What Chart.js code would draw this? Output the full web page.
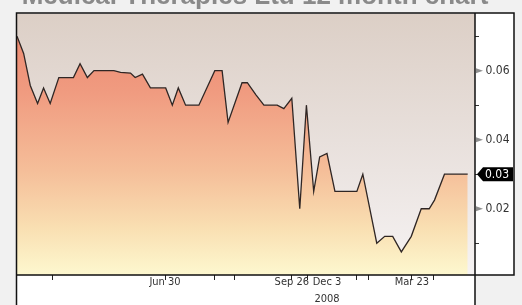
<!DOCTYPE html>
<html>
<head>
<meta charset="utf-8">
<script src="https://cdn.jsdelivr.net/npm/chart.js@4.4.1/dist/chart.umd.min.js"></script>
<style>
  html, body { margin: 0; padding: 0; background: #f1f1f1; overflow: hidden; }
  canvas { display: block; }
</style>
</head>
<body>
<canvas id="chart" width="522" height="305"></canvas>
<script>
// price series, x in chart steps (roughly weekly), y in dollars
const steps = [0, 1, 2, 3.1, 4, 5, 6.3, 8.5, 9.5, 10.6, 11.6, 14.6, 15.6, 17.1, 17.8, 18.9, 20.1, 22.4, 23.4, 24.3, 25.4, 27.4, 29.8, 30.9, 31.8, 33.9, 34.7, 36, 37.2, 39.2, 40.2, 41.4, 42.6, 43.6, 44.7, 45.6, 46.7, 47.9, 51.2, 52.1, 54.2, 55.4, 56.6, 57.9, 59.4, 60.9, 62.1, 62.9, 64.4, 67.9];
const prices = [0.07, 0.065, 0.0557, 0.0505, 0.055, 0.0505, 0.058, 0.058, 0.062, 0.058, 0.06, 0.06, 0.0595, 0.0593, 0.058, 0.059, 0.055, 0.055, 0.05, 0.055, 0.05, 0.05, 0.06, 0.06, 0.045, 0.0565, 0.0565, 0.053, 0.05, 0.05, 0.049, 0.052, 0.02, 0.05, 0.025, 0.035, 0.036, 0.025, 0.025, 0.03, 0.01, 0.012, 0.012, 0.0075, 0.012, 0.02, 0.02, 0.0225, 0.03, 0.03];

// x axis: tick marks and labelled dates
const markSteps = [5.3, 22.3, 29.7, 32.8, 41.4, 43.7, 51.2, 53.0, 59.5, 62.7];
const labelSteps = [22.3, 41.4, 46.7, 59.5];
const labelTexts = ['Jun 30', 'Sep 26', 'Dec 3', 'Mar 23'];
const yearStep = 46.7;
const yearText = '2008';

// y axis
const yTicks = [0.01, 0.02, 0.03, 0.04, 0.05, 0.06, 0.07];
const yLabelled = [0.02, 0.04, 0.06];

const title = 'Medical Therapies Ltd 12 month chart';
const narrow = '"Liberation Sans Narrow", "Arial Narrow", "DejaVu Sans Condensed", sans-serif';

const points = steps.map((s, i) => ({ x: s, y: prices[i] }));
const lastPrice = prices[prices.length - 1];

const near = (a, b) => Math.abs(a - b) < 0.001;

const frame = {
  id: 'frame',
  beforeDraw(chart) {
    const ctx = chart.ctx;
    const a = chart.chartArea;
    const y = chart.scales.y;
    ctx.save();
    ctx.fillStyle = '#ffffff';
    ctx.fillRect(a.right, a.top - 1, y.right - a.right, a.bottom - a.top + 1);
    ctx.fillRect(a.left, a.bottom, a.right - a.left, chart.height - a.bottom);
    const g = ctx.createLinearGradient(0, a.top, 0, a.bottom);
    g.addColorStop(0, '#dccfc6');
    g.addColorStop(0.6, '#ebe4e1');
    g.addColorStop(1, '#f6f3f3');
    ctx.fillStyle = g;
    ctx.fillRect(a.left, a.top, a.right - a.left, a.bottom - a.top);
    ctx.restore();
  },
  afterDraw(chart) {
    const ctx = chart.ctx;
    const a = chart.chartArea;
    const ys = chart.scales.y;
    ctx.save();
    ctx.strokeStyle = '#111';
    ctx.lineWidth = 1.5;
    ctx.beginPath();
    ctx.moveTo(a.left - 0.5, chart.height);
    ctx.lineTo(a.left - 0.5, a.top - 0.75);
    ctx.lineTo(ys.right, a.top - 0.75);
    ctx.lineTo(ys.right, a.bottom);
    ctx.lineTo(a.left - 0.5, a.bottom);
    ctx.moveTo(a.right, a.top - 0.75);
    ctx.lineTo(a.right, chart.height);
    ctx.stroke();

    // grey pointers on labelled ticks
    ctx.fillStyle = '#8e8e8e';
    yLabelled.forEach(v => {
      const py = ys.getPixelForValue(v);
      ctx.beginPath();
      ctx.moveTo(a.right + 1, py - 2.5);
      ctx.lineTo(a.right + 8, py);
      ctx.lineTo(a.right + 1, py + 2.5);
      ctx.closePath();
      ctx.fill();
    });

    // last price tag
    const py = ys.getPixelForValue(lastPrice);
    const x0 = a.right + 2, x1 = ys.right - 1;
    ctx.fillStyle = '#000';
    ctx.beginPath();
    ctx.moveTo(x0, py);
    ctx.lineTo(x0 + 6, py - 7);
    ctx.lineTo(x1, py - 7);
    ctx.lineTo(x1, py + 7);
    ctx.lineTo(x0 + 6, py + 7);
    ctx.closePath();
    ctx.fill();
    ctx.fillStyle = '#fff';
    ctx.font = '12px ' + narrow;
    ctx.textBaseline = 'middle';
    ctx.textAlign = 'left';
    ctx.fillText(lastPrice.toFixed(2), x0 + 8, py + 0.5);

    // title, mostly cut off by the top edge
    ctx.fillStyle = '#8a8a8a';
    ctx.font = 'bold 26px "Liberation Sans", Arial, sans-serif';
    ctx.textAlign = 'center';
    ctx.textBaseline = 'alphabetic';
    ctx.fillText(title, 255, 4);
    ctx.restore();
  }
};

const ctx = document.getElementById('chart').getContext('2d');
new Chart(ctx, {
  type: 'line',
  data: {
    datasets: [{
      data: points,
      borderColor: '#2f2624',
      borderWidth: 1.3,
      pointRadius: 0,
      tension: 0,
      fill: 'start',
      backgroundColor: (c) => {
        const a = c.chart.chartArea;
        if (!a) return '#f3b090';
        const g = c.chart.ctx.createLinearGradient(0, a.top, 0, a.bottom);
        g.addColorStop(0, '#eb866e');
        g.addColorStop(0.3, '#f09b80');
        g.addColorStop(0.6, '#f5be99');
        g.addColorStop(0.82, '#f9dfb2');
        g.addColorStop(1, '#fdf8cf');
        return g;
      }
    }]
  },
  options: {
    responsive: false,
    animation: false,
    events: [],
    layout: { padding: { left: 17, top: 9, right: 8, bottom: 0 } },
    plugins: { legend: { display: false }, tooltip: { enabled: false }, title: { display: false } },
    scales: {
      x: {
        type: 'linear',
        min: 0,
        max: 69,
        afterBuildTicks: (s) => {
          const all = markSteps.concat(labelSteps.filter(v => !markSteps.some(m => near(m, v))));
          s.ticks = all.sort((p, q) => p - q).map(v => ({ value: v }));
        },
        afterFit: (s) => { s.height = 30; },
        border: { display: false },
        grid: {
          drawOnChartArea: false,
          tickLength: 5,
          lineWidth: 1,
          color: (c) => markSteps.some(m => near(m, c.tick.value)) ? '#222' : 'rgba(0,0,0,0)'
        },
        ticks: {
          autoSkip: false,
          maxRotation: 0,
          minRotation: 0,
          padding: -6.5,
          color: '#333',
          font: { family: narrow, size: 11, lineHeight: '17px' },
          callback: (v) => {
            const i = labelSteps.findIndex(l => near(l, v));
            if (i < 0) return '';
            return near(v, yearStep) ? [labelTexts[i], yearText] : labelTexts[i];
          }
        }
      },
      y: {
        position: 'right',
        min: 0.0008,
        max: 0.0765,
        afterBuildTicks: (s) => { s.ticks = yTicks.map(v => ({ value: v })); },
        afterFit: (s) => { s.width = 39; },
        border: { display: false },
        grid: {
          drawOnChartArea: false,
          tickLength: 4,
          color: (c) => yLabelled.some(v => near(v, c.tick.value)) ? 'rgba(0,0,0,0)' : '#333'
        },
        ticks: {
          padding: 6.5,
          color: '#333',
          font: { family: narrow, size: 12 },
          callback: (v) => yLabelled.some(l => near(l, v)) ? v.toFixed(2) : ''
        }
      }
    }
  },
  plugins: [frame]
});
</script>
</body>
</html>
